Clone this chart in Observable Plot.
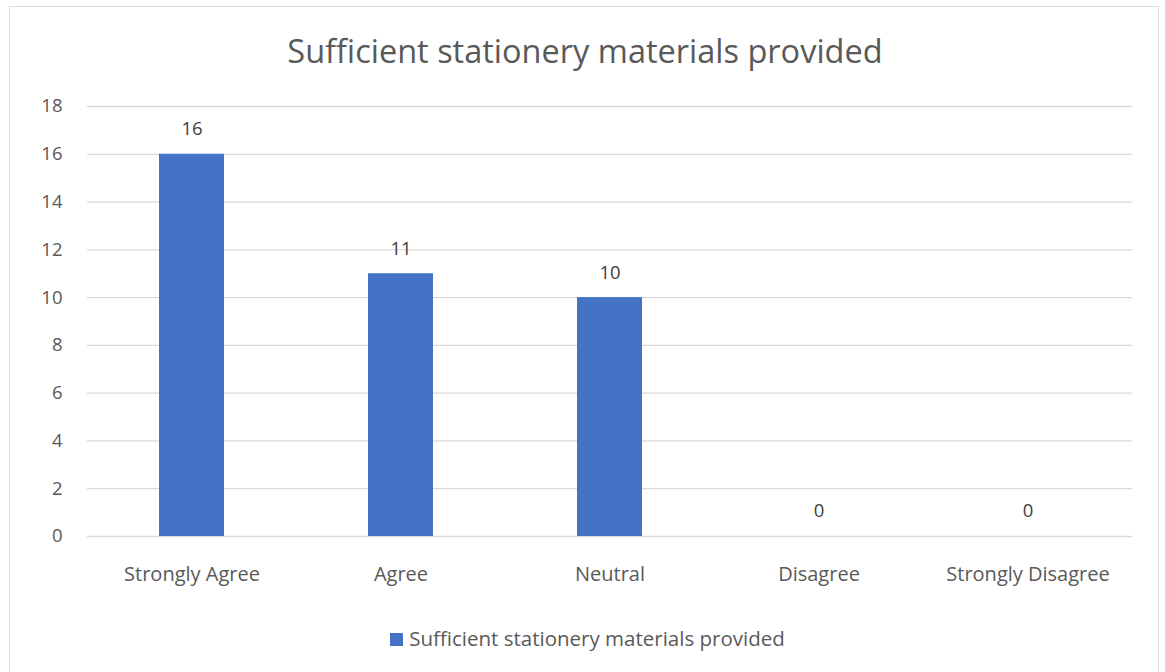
<!DOCTYPE html>
<html>
<head>
<meta charset="utf-8">
<script src="https://cdn.jsdelivr.net/npm/d3@7"></script>
<script src="https://cdn.jsdelivr.net/npm/@observablehq/plot@0.6"></script>
<style>
  html, body { margin: 0; padding: 0; background: #fff; }
  #wrap { position: relative; width: 1165px; height: 672px; overflow: hidden; font-family: "Open Sans", "Noto Sans", sans-serif; }
  #frame { position: absolute; left: 9px; top: 6px; width: 1150px; height: 700px; border: 1.5px solid #D9D9D9; box-sizing: border-box; }
  #title { position: absolute; left: 0; width: 1170px; top: 28px; text-align: center; font-size: 32.5px; color: #595959; }
  #chart { position: absolute; left: 0; top: 0; }
  #legend { position: absolute; left: 0; width: 1175px; top: 624px; text-align: center; font-size: 20.5px; color: #595959; }
  #legend .sw { display: inline-block; width: 13px; height: 13px; background: #4472C4; margin-right: 6px; vertical-align: 0px; }
</style>
</head>
<body>
<div id="wrap">
  <div id="frame"></div>
  <div id="title"></div>
  <div id="chart"></div>
  <div id="legend"></div>
</div>
<script>
const titleText = "Sufficient stationery materials provided";
const seriesName = "Sufficient stationery materials provided";
const categories = ["Strongly Agree", "Agree", "Neutral", "Disagree", "Strongly Disagree"];
const values = [16, 11, 10, 0, 0];
const yTicks = [0, 2, 4, 6, 8, 10, 12, 14, 16, 18];

const data = categories.map((c, i) => ({category: c, value: values[i]}));

document.getElementById("title").textContent = titleText;
document.getElementById("legend").innerHTML = '<span class="sw"></span>' + seriesName;

const chart = Plot.plot({
  width: 1165,
  height: 600,
  marginLeft: 87,
  marginRight: 33,
  marginTop: 106,
  marginBottom: 64,
  style: { fontFamily: "'Open Sans', 'Noto Sans', sans-serif", fontSize: "18.5px", color: "#595959", background: "transparent" },
  x: { domain: categories, padding: 0, label: null, tickSize: 0, tickPadding: 30 },
  y: { domain: [0, 18], ticks: yTicks, label: null, tickSize: 0, tickPadding: 25 },
  marks: [
    Plot.gridY(yTicks, { stroke: "#D9D9D9", strokeOpacity: 1, strokeWidth: 1.3 }),
    Plot.barY(data, { x: "category", y: "value", fill: "#4472C4", insetLeft: 72, insetRight: 72 }),
    Plot.text(data, { x: "category", y: "value", text: d => String(d.value), dy: -25, fill: "#404040", fontSize: 18.5 }),
    Plot.axisX({ tickSize: 0, tickPadding: 30, fontSize: 20, label: null })
  ]
});
document.getElementById("chart").appendChild(chart);
</script>
</body>
</html>
